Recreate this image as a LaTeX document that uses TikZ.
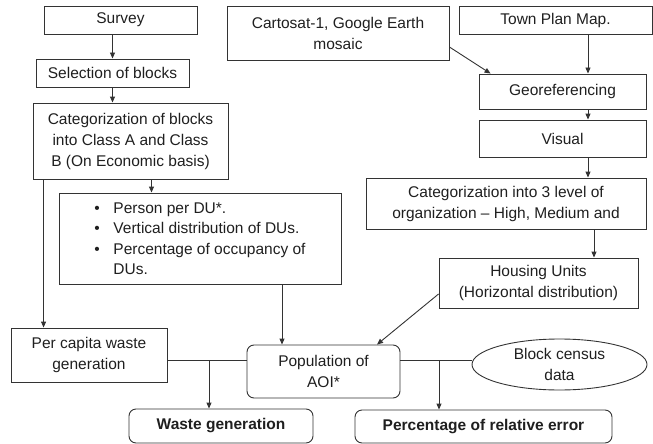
\documentclass[tikz,border=0pt]{standalone}
\usepackage{fontspec}
\setmainfont{Liberation Sans}
\usetikzlibrary{arrows.meta,positioning,calc,shapes.geometric}

\begin{document}
\begin{tikzpicture}[x=1pt,y=-1pt,>={Triangle[length=6pt,width=5pt]},
  every node/.style={font=\fontsize{15.5}{21}\selectfont,text=black!88},
  box/.style={draw=black!80,line width=0.9pt,align=center,inner sep=0pt},
  rbox/.style={box,rounded corners=7pt},
  link/.style={->,line width=0.9pt,draw=black!80}]
\useasboundingbox (0,0) rectangle (653,444);
% left column
\node[box,minimum width=153,minimum height=28] (survey) at (120.5,20) {Survey};
\node[box,minimum width=153,minimum height=28] (select) at (112.5,73) {Selection of blocks};
\node[box,minimum width=195,minimum height=76] (catblocks) at (130.5,141) {Categorization of blocks\\into Class A and Class\\B (On Economic basis)};
\node[box,align=left,minimum width=282,minimum height=91,font=\fontsize{15.5}{20.5}\selectfont] (bullets) at (200,238.5)
  {\makebox[19pt][l]{\textbullet}Person per DU*.\\
   \makebox[19pt][l]{\textbullet}Vertical distribution of DUs.\\
   \makebox[19pt][l]{\textbullet}Percentage of occupancy of\\
   \makebox[19pt][l]{}DUs.};
\node[box,minimum width=156,minimum height=54] (percapita) at (89,355) {Per capita waste\\generation};
% right column
\node[box,minimum width=222,minimum height=54] (cartosat) at (338,33) {Cartosat-1, Google Earth\\mosaic};
\node[box,minimum width=193,minimum height=28] (townplan) at (555.5,20) {Town Plan Map.};
\node[box,minimum width=167,minimum height=35] (georef) at (562.5,91.5) {Georeferencing};
\node[box,minimum width=167,minimum height=37] (visual) at (562.5,138.5) {Visual};
\node[box,minimum width=280,minimum height=51] (catlevel) at (506,203.5) {Categorization into 3 level of\\organization -- High, Medium and};
\node[box,minimum width=199,minimum height=50] (housing) at (538.5,283) {Housing Units\\(Horizontal distribution)};
% bottom
\node[rbox,minimum width=153,minimum height=53] (population) at (323.5,371.5) {Population of\\AOI*};
\node[box,ellipse,minimum width=175,minimum height=51] (census) at (559.5,364.5) {Block census\\data};
\node[rbox,minimum width=184,minimum height=34,font=\fontsize{15.5}{21}\selectfont\bfseries] (waste) at (221,426) {Waste generation};
\node[rbox,minimum width=257,minimum height=33,font=\fontsize{15.5}{21}\selectfont\bfseries] (percent) at (483.5,426.5) {Percentage of relative error};
\coordinate (wj) at (209,360);
\coordinate (pj) at (439,360);

\draw[link] (select.north |- survey.south) -- (select.north);
\draw[link] (select.south) -- (select.south |- catblocks.north);
\draw[link] ([xshift=21]catblocks.south) -- ([xshift=21]catblocks.south |- bullets.north);
\draw[link] ([xshift=11]catblocks.south west) -- ([xshift=11]catblocks.south west |- percapita.north);
\draw[link] ([xshift=-41.5]population.north |- bullets.south) -- ([xshift=-41.5]population.north);
\draw[link] ([yshift=-14]cartosat.east) -- ([xshift=12]georef.north west);
\draw[link] ([xshift=25.5]georef.north |- townplan.south) -- ([xshift=25.5]georef.north);
\draw[link] ([xshift=25.5]georef.south) -- ([xshift=25.5]visual.north);
\draw[link] ([xshift=25.5]visual.south) -- ([xshift=25.5]visual.south |- catlevel.north);
\draw[link] ([xshift=55.5]housing.north |- catlevel.south) -- ([xshift=55.5]housing.north);
\draw[link] ([yshift=-11]housing.west) -- ([xshift=53.5]population.north);
\draw[line width=0.9pt,black!80] (percapita.east |- wj) -- (population.west |- wj);
\draw[link] (wj) -- (wj |- waste.north);
\draw[line width=0.9pt,black!80] (population.east |- pj) -- (census.west |- pj);
\draw[link] (pj) -- (pj |- percent.north);
\end{tikzpicture}
\end{document}
